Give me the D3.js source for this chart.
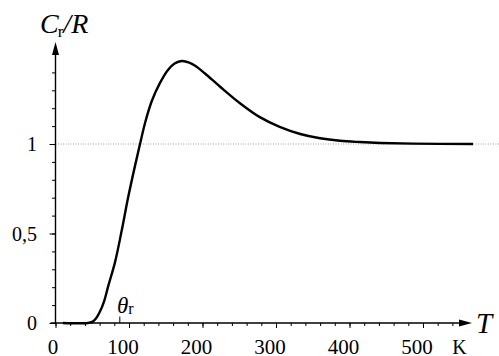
<!DOCTYPE html>
<html>
<head>
<meta charset="utf-8">
<script src="https://cdn.jsdelivr.net/npm/d3@7"></script>
</head>
<body style="margin:0">
<script>
// temperature (K) and rotational heat capacity C_r/R
const tempK = [10, 44, 50, 55, 60, 66, 72, 81, 90, 99, 108, 115, 122, 131, 142, 153, 162, 172, 182, 190,
    203, 224, 251, 278, 305, 333, 360, 387, 414, 442, 486, 568]
const crR = [0, 0, 0.006, 0.025, 0.06, 0.12, 0.21, 0.34, 0.515, 0.705, 0.875, 1.0, 1.12, 1.24, 1.34, 1.414, 1.45, 1.464, 1.455, 1.437,
    1.395, 1.32, 1.228, 1.15, 1.096, 1.056, 1.032, 1.018, 1.011, 1.006, 1.002, 1.0]

const xMajor = [0, 100, 200, 300, 400, 500]
const xMinor = d3.range(0, 541, 20)
const yMajor = [0, 0.5, 1]
const yMajorLabels = ['0', '0,5', '1']
const yMinor = d3.range(0, 1.41, 0.1)
const thetaR = 87.5

const width = 499, height = 356
const fontFam = 'Liberation Serif'

const x = d3.scaleLinear().domain([0, 500]).range([55.5, 423])
const y = d3.scaleLinear().domain([0, 1]).range([323, 144])

const svg = d3.select('body').append('svg')
    .attr('width', width)
    .attr('height', height)
    .style('display', 'block')

// dotted reference at C_r/R = 1
svg.append('line')
    .attr('x1', x(0)).attr('x2', width)
    .attr('y1', y(1)).attr('y2', y(1))
    .attr('stroke', '#8a8a8a')
    .attr('stroke-width', 0.8)
    .attr('stroke-dasharray', '1 1.5')

// ticks (labels drawn by hand below)
const xMinorAxis = svg.append('g')
    .attr('transform', `translate(0,${y(0)})`)
    .call(d3.axisBottom(x).tickValues(xMinor).tickSize(3).tickFormat(''))
const xMajorAxis = svg.append('g')
    .attr('transform', `translate(0,${y(0)})`)
    .call(d3.axisBottom(x).tickValues(xMajor).tickSize(5).tickFormat(''))
const yMinorAxis = svg.append('g')
    .attr('transform', `translate(${x(0)},0)`)
    .call(d3.axisLeft(y).tickValues(yMinor).tickSize(3.5).tickFormat(''))
const yMajorAxis = svg.append('g')
    .attr('transform', `translate(${x(0)},0)`)
    .call(d3.axisLeft(y).tickValues(yMajor).tickSize(6).tickFormat(''))

for (const g of [xMinorAxis, xMajorAxis, yMinorAxis, yMajorAxis]) {
    g.select('.domain').remove()
    g.selectAll('line').attr('stroke', '#000').attr('stroke-width', 1)
}

// axis lines with arrows
svg.append('line')
    .attr('x1', x(0) - 5).attr('x2', 462)
    .attr('y1', y(0)).attr('y2', y(0))
    .attr('stroke', '#000').attr('stroke-width', 1.4)
svg.append('path')
    .attr('d', `M472,${y(0)} L459,${y(0) - 3.5} L459,${y(0) + 3.5} Z`)
    .attr('fill', '#000')

svg.append('line')
    .attr('x1', x(0)).attr('x2', x(0))
    .attr('y1', y(0) + 1).attr('y2', 52)
    .attr('stroke', '#000').attr('stroke-width', 1.4)
svg.append('path')
    .attr('d', `M${x(0)},42 L${x(0) - 3.5},55 L${x(0) + 3.5},55 Z`)
    .attr('fill', '#000')

// theta_r marker
svg.append('line')
    .attr('x1', x(thetaR)).attr('x2', x(thetaR))
    .attr('y1', y(0)).attr('y2', y(0) - 6.5)
    .attr('stroke', '#000').attr('stroke-width', 1)

// tick labels
svg.selectAll('text.xlab')
    .data(xMajor)
    .join('text')
    .attr('class', 'xlab')
    .attr('x', d => x(d) - (d === 0 ? 2.5 : 6))
    .attr('y', 354)
    .attr('text-anchor', 'middle')
    .attr('font-family', fontFam)
    .attr('font-size', 21)
    .text(d => d)

svg.selectAll('text.ylab')
    .data(yMajor)
    .join('text')
    .attr('class', 'ylab')
    .attr('x', 37)
    .attr('y', d => y(d) + 7)
    .attr('text-anchor', 'end')
    .attr('font-family', fontFam)
    .attr('font-size', 20)
    .text((d, i) => yMajorLabels[i])

svg.append('text')
    .attr('x', 459.5).attr('y', 354)
    .attr('text-anchor', 'middle')
    .attr('font-family', fontFam)
    .attr('font-size', 20)
    .text('K')

// axis titles
const yTitle = svg.append('text')
    .attr('x', 40).attr('y', 33)
    .attr('font-family', fontFam)
    .attr('font-size', 28)
yTitle.append('tspan').attr('font-style', 'italic').text('C')
yTitle.append('tspan').attr('font-size', 17).attr('dy', 4).attr('dx', -1).text('r')
yTitle.append('tspan').attr('font-style', 'italic').attr('dy', -4).text('/R')

svg.append('text')
    .attr('x', 476).attr('y', 333)
    .attr('font-family', fontFam)
    .attr('font-size', 29)
    .attr('font-style', 'italic')
    .text('T')

const thetaLabel = svg.append('text')
    .attr('x', 117).attr('y', 313)
    .attr('font-family', fontFam)
    .attr('font-size', 23)
thetaLabel.append('tspan').attr('font-style', 'italic').text('θ')
thetaLabel.append('tspan').attr('font-size', 16).attr('dy', 1).text('r')

// curve
const line = d3.line()
    .x(d => x(d[0]))
    .y(d => y(d[1]))
    .curve(d3.curveCatmullRom.alpha(0.5))

svg.append('path')
    .datum(d3.zip(tempK, crR))
    .attr('d', line)
    .attr('fill', 'none')
    .attr('stroke', '#000')
    .attr('stroke-width', 2.4)
    .attr('stroke-linejoin', 'round')
</script>
</body>
</html>
